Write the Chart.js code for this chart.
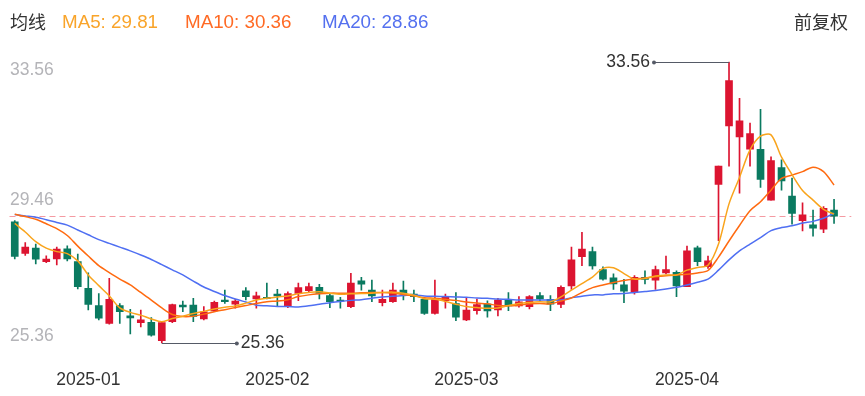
<!DOCTYPE html>
<html>
<head>
<meta charset="utf-8">
<script src="https://cdn.jsdelivr.net/npm/chart.js@4.4.1/dist/chart.umd.min.js"></script>
<style>
  html, body { margin: 0; padding: 0; background: #fff; }
  #wrap { position: relative; width: 865px; height: 396px; font-family: "Liberation Sans", Arial, sans-serif; }
  #kline { position: absolute; left: 0; top: 0; }
  .hd { position: absolute; top: 10px; font-size: 18.8px; line-height: 24px; white-space: nowrap; }
  .cjk { font-family: "Noto Sans CJK SC", "Noto Sans", sans-serif; color: #333; font-size: 18px; }
</style>
</head>
<body>
<div id="wrap">
  <canvas id="kline" width="865" height="396"></canvas>
  <span class="hd cjk" style="left:10px; top:9px;">均线</span>
  <span class="hd" style="left:62px; color:#f9a42a;">MA5: 29.81</span>
  <span class="hd" style="left:185px; color:#ff6a24;">MA10: 30.36</span>
  <span class="hd" style="left:322px; color:#5470ef;">MA20: 28.86</span>
  <span class="hd cjk" style="right:17px; top:9px;">前复权</span>
</div>
<script>
// trading days
var dates = [
  '2024-12-23','2024-12-24','2024-12-25','2024-12-26','2024-12-27','2024-12-30','2024-12-31',
  '2025-01-02','2025-01-03','2025-01-06','2025-01-07','2025-01-08','2025-01-09','2025-01-10',
  '2025-01-13','2025-01-14','2025-01-15','2025-01-16','2025-01-17','2025-01-20','2025-01-21',
  '2025-01-22','2025-01-23','2025-01-24','2025-01-27',
  '2025-02-05','2025-02-06','2025-02-07','2025-02-10','2025-02-11','2025-02-12','2025-02-13',
  '2025-02-14','2025-02-17','2025-02-18','2025-02-19','2025-02-20','2025-02-21','2025-02-24',
  '2025-02-25','2025-02-26','2025-02-27','2025-02-28',
  '2025-03-03','2025-03-04','2025-03-05','2025-03-06','2025-03-07','2025-03-10','2025-03-11',
  '2025-03-12','2025-03-13','2025-03-14','2025-03-17','2025-03-18','2025-03-19','2025-03-20',
  '2025-03-21','2025-03-24','2025-03-25','2025-03-26','2025-03-27','2025-03-28','2025-03-31',
  '2025-04-01','2025-04-02','2025-04-03','2025-04-07','2025-04-08','2025-04-09','2025-04-10',
  '2025-04-11','2025-04-14','2025-04-15','2025-04-16','2025-04-17','2025-04-18','2025-04-21',
  '2025-04-22'
];

var opens = [
  28.90, 27.98, 28.13, 27.74, 27.82, 28.11, 27.74, 26.96, 26.46, 25.94,
  26.46, 26.16, 25.96, 25.97, 25.44, 25.99, 26.47, 26.47, 26.07, 26.30,
  26.62, 26.50, 26.89, 26.65, 26.70, 26.79, 26.43, 26.81, 26.89, 26.99,
  26.75, 26.62, 26.43, 27.18, 26.91, 26.54, 26.57, 26.91, 26.79, 26.64,
  26.23, 26.60, 26.52, 26.04, 26.31, 26.50, 26.33, 26.62, 26.45, 26.43,
  26.75, 26.64, 26.49, 27.03, 27.88, 28.03, 27.51, 27.27, 27.06, 26.86,
  27.28, 27.20, 27.41, 27.43, 27.01, 28.14, 27.59, 29.99, 31.69, 31.37,
  31.01, 31.01, 29.53, 30.48, 29.65, 28.93, 28.81, 28.68, 29.24
];
var highs = [
  28.93, 28.29, 28.25, 27.91, 28.16, 28.20, 27.96, 27.41, 26.81, 27.25,
  26.52, 26.35, 26.33, 26.11, 25.98, 26.50, 26.59, 26.67, 26.43, 26.59,
  26.91, 26.64, 26.98, 26.85, 27.11, 26.93, 26.86, 27.11, 27.11, 27.08,
  26.81, 26.70, 27.40, 27.28, 27.20, 26.91, 27.11, 27.17, 26.91, 26.67,
  27.20, 26.79, 26.84, 26.67, 26.65, 26.60, 26.67, 26.84, 26.72, 26.75,
  26.84, 26.75, 27.03, 28.16, 28.59, 28.16, 27.59, 27.38, 27.22, 27.33,
  27.47, 27.61, 27.90, 27.47, 28.19, 28.19, 27.90, 30.52, 33.56, 32.49,
  31.77, 32.17, 30.79, 30.70, 30.17, 29.45, 29.24, 29.34, 29.55
];
var lows = [
  27.82, 27.92, 27.67, 27.71, 27.64, 27.76, 26.94, 26.33, 26.04, 25.92,
  25.94, 25.63, 25.84, 25.57, 25.36, 25.96, 26.28, 25.99, 26.04, 26.28,
  26.52, 26.38, 26.62, 26.38, 26.65, 26.43, 26.40, 26.60, 26.86, 26.65,
  26.40, 26.38, 26.40, 26.91, 26.57, 26.45, 26.55, 26.62, 26.57, 26.20,
  26.21, 26.38, 26.02, 26.02, 26.21, 26.12, 26.16, 26.31, 26.41, 26.36,
  26.60, 26.31, 26.40, 26.93, 27.62, 27.52, 27.20, 26.93, 26.54, 26.79,
  27.09, 26.93, 27.38, 26.72, 27.01, 27.62, 27.54, 28.35, 30.52, 29.73,
  30.52, 29.90, 29.53, 29.82, 28.83, 28.63, 28.48, 28.58, 28.85
];
var closes = [
  27.89, 28.16, 27.81, 27.81, 28.10, 27.82, 27.01, 26.49, 26.09, 26.64,
  26.28, 26.10, 26.04, 25.60, 25.96, 26.49, 26.42, 26.14, 26.28, 26.55,
  26.57, 26.59, 26.72, 26.74, 26.66, 26.74, 26.81, 26.98, 27.01, 26.81,
  26.57, 26.59, 27.11, 27.08, 26.74, 26.64, 26.91, 26.79, 26.72, 26.23,
  26.64, 26.70, 26.12, 26.33, 26.49, 26.30, 26.62, 26.45, 26.57, 26.72,
  26.65, 26.50, 26.99, 27.79, 28.10, 27.61, 27.23, 27.09, 26.88, 27.28,
  27.22, 27.51, 27.51, 27.03, 28.05, 27.74, 27.76, 30.52, 33.01, 31.84,
  31.47, 30.13, 30.68, 30.09, 29.14, 29.10, 28.71, 29.29, 29.06
];

var ma5 = [
  28.85, 28.60, 28.32, 28.13, 28.03, 27.97, 27.76, 27.35, 27.04, 26.74,
  26.39, 26.26, 26.18, 26.07, 25.99, 26.08, 26.15, 26.23, 26.29, 26.36,
  26.41, 26.45, 26.53, 26.62, 26.67, 26.71, 26.74, 26.80, 26.84, 26.86,
  26.82, 26.79, 26.80, 26.81, 26.82, 26.84, 26.85, 26.82, 26.76, 26.66,
  26.64, 26.58, 26.50, 26.43, 26.40, 26.38, 26.39, 26.46, 26.52, 26.55,
  26.57, 26.57, 26.71, 26.91, 27.10, 27.29, 27.54, 27.56, 27.39, 27.23,
  27.25, 27.32, 27.35, 27.35, 27.49, 27.57, 27.63, 28.25, 29.42, 30.19,
  30.99, 31.39, 31.43, 30.78, 30.27, 29.81, 29.53, 29.26, 29.12
];
var ma10 = [
  29.12, 29.05, 28.97, 28.84, 28.70, 28.50, 28.19, 27.90, 27.62, 27.42,
  27.23, 27.06, 26.84, 26.62, 26.39, 26.20, 26.14, 26.15, 26.21, 26.28,
  26.34, 26.40, 26.46, 26.52, 26.57, 26.59, 26.63, 26.72, 26.77, 26.80,
  26.82, 26.82, 26.82, 26.83, 26.84, 26.84, 26.82, 26.78, 26.74, 26.69,
  26.67, 26.64, 26.61, 26.56, 26.53, 26.51, 26.46, 26.45, 26.47, 26.51,
  26.52, 26.51, 26.59, 26.68, 26.84, 26.98, 27.06, 27.13, 27.19, 27.23,
  27.26, 27.30, 27.33, 27.35, 27.37, 27.41, 27.48, 27.87, 28.34, 28.79,
  29.22, 29.48, 29.82, 30.16, 30.26, 30.36, 30.49, 30.36, 29.97
];
var ma20 = [
  29.11, 29.07, 29.03, 28.96, 28.88, 28.80, 28.66, 28.52, 28.38, 28.27,
  28.16, 28.05, 27.93, 27.80, 27.65, 27.50, 27.35, 27.17, 27.00, 26.87,
  26.75, 26.65, 26.56, 26.47, 26.45, 26.43, 26.43, 26.42, 26.45, 26.50,
  26.54, 26.58, 26.61, 26.63, 26.67, 26.71, 26.73, 26.75, 26.77, 26.74,
  26.73, 26.72, 26.71, 26.70, 26.68, 26.67, 26.65, 26.64, 26.62, 26.62,
  26.62, 26.62, 26.62, 26.69, 26.73, 26.77, 26.77, 26.80, 26.81, 26.84,
  26.87, 26.90, 26.94, 26.99, 27.06, 27.14, 27.23, 27.49, 27.79, 28.05,
  28.25, 28.44, 28.64, 28.73, 28.78, 28.86, 28.91, 29.00, 29.15
];

var yTicks = [25.36, 29.46, 33.56];

var upColor = '#dc1430';
var downColor = '#0a7a60';
var candleColors = closes.map(function (c, i) {
    return c >= opens[i] ? upColor : downColor;
});

// dashed last-price line, y labels, max / min markers
var overlay = {
    id: 'overlay',
    beforeDatasetsDraw: function (chart) {
        var ctx = chart.ctx, area = chart.chartArea, y = chart.scales.y;
        var py = Math.round(y.getPixelForValue(closes[closes.length - 1])) + 0.5;
        ctx.save();
        ctx.strokeStyle = '#f59aa2';
        ctx.lineWidth = 1;
        ctx.setLineDash([6, 4]);
        ctx.beginPath();
        ctx.moveTo(area.left, py);
        ctx.lineTo(area.right + 12, py);
        ctx.stroke();
        ctx.restore();
    },
    afterDatasetsDraw: function (chart) {
        var ctx = chart.ctx, x = chart.scales.x, y = chart.scales.y;
        ctx.save();
        ctx.font = '17.5px "Liberation Sans", Arial, sans-serif';
        ctx.fillStyle = '#b4b4b8';
        ctx.textAlign = 'left';
        yTicks.forEach(function (v, i) {
            var py = y.getPixelForValue(v);
            if (i === yTicks.length - 1) {
                ctx.textBaseline = 'top';
                ctx.fillText(v.toFixed(2), 10, py);
            } else if (i === 0) {
                ctx.textBaseline = 'bottom';
                ctx.fillText(v.toFixed(2), 10, py + 2);
            } else {
                ctx.textBaseline = 'middle';
                ctx.fillText(v.toFixed(2), 10, py - 2);
            }
        });

        var hi = highs.indexOf(Math.max.apply(null, highs));
        var lo = lows.indexOf(Math.min.apply(null, lows));
        ctx.strokeStyle = '#555a66';
        ctx.fillStyle = '#555a66';
        ctx.lineWidth = 1.2;

        var hx = x.getPixelForValue(hi), hy = Math.round(y.getPixelForValue(highs[hi])) + 0.5;
        ctx.beginPath();
        ctx.moveTo(hx, hy);
        ctx.lineTo(hx - 75, hy);
        ctx.stroke();
        ctx.beginPath();
        ctx.arc(hx - 75, hy, 2, 0, Math.PI * 2);
        ctx.fill();
        ctx.fillStyle = '#333';
        ctx.textAlign = 'right';
        ctx.textBaseline = 'middle';
        ctx.fillText(highs[hi].toFixed(2), hx - 79, hy);

        var lx = x.getPixelForValue(lo), ly = Math.round(y.getPixelForValue(lows[lo])) + 0.5;
        ctx.fillStyle = '#555a66';
        ctx.beginPath();
        ctx.moveTo(lx, ly);
        ctx.lineTo(lx + 75, ly);
        ctx.stroke();
        ctx.beginPath();
        ctx.arc(lx + 75, ly, 2, 0, Math.PI * 2);
        ctx.fill();
        ctx.fillStyle = '#333';
        ctx.textAlign = 'left';
        ctx.fillText(lows[lo].toFixed(2), lx + 79, ly);
        ctx.restore();
    }
};

function maLine(label, data, color) {
    return {
        type: 'line',
        label: label,
        data: data,
        borderColor: color,
        borderWidth: 1.5,
        pointRadius: 0,
        tension: 0.3,
        order: 0
    };
}

new Chart(document.getElementById('kline'), {
    data: {
        labels: dates,
        datasets: [
            maLine('MA5', ma5, '#f9a41c'),
            maLine('MA10', ma10, '#ff6a10'),
            maLine('MA20', ma20, '#4f6ff2'),
            {
                type: 'bar',
                label: 'body',
                data: opens.map(function (o, i) { return [o, closes[i]]; }),
                backgroundColor: candleColors,
                barThickness: 7,
                minBarLength: 1,
                grouped: false,
                order: 1
            },
            {
                type: 'bar',
                label: 'wick',
                data: lows.map(function (l, i) { return [l, highs[i]]; }),
                backgroundColor: candleColors,
                barThickness: 1,
                grouped: false,
                order: 2
            }
        ]
    },
    options: {
        responsive: false,
        animation: false,
        layout: { padding: { left: 9.5, right: 25.7, top: 61.7, bottom: 0 } },
        plugins: { legend: { display: false }, tooltip: { enabled: false } },
        scales: {
            x: {
                grid: { display: false, drawTicks: false },
                border: { display: false },
                afterFit: function (scale) {
                    // keep the plot edge where the picture has it
                    scale.height = 52.7;
                    scale.paddingLeft = 0;
                    scale.paddingRight = 0;
                },
                ticks: {
                    autoSkip: false,
                    maxRotation: 0,
                    padding: 26.2,
                    color: '#333',
                    font: { size: 17.5, family: '"Liberation Sans", Arial, sans-serif' },
                    callback: function (v, i) {
                        if (i === 0) return '';
                        return dates[i].slice(0, 7) !== dates[i - 1].slice(0, 7) ? dates[i].slice(0, 7) : '';
                    }
                }
            },
            y: { display: false, min: 25.36, max: 33.56 }
        }
    },
    plugins: [overlay]
});
</script>
</body>
</html>
